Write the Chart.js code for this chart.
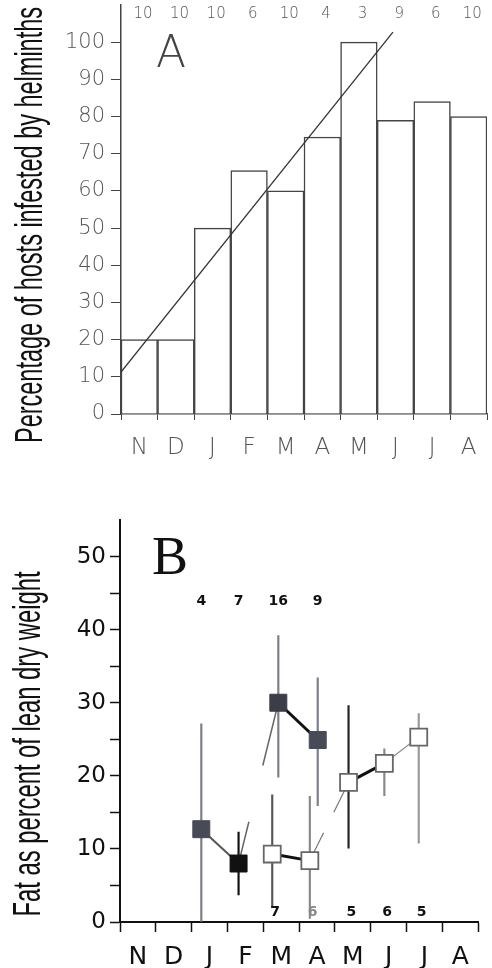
<!DOCTYPE html>
<html>
<head>
<meta charset="utf-8">
<script src="https://cdn.jsdelivr.net/npm/chart.js@4.4.0/dist/chart.umd.min.js"></script>
<style>
  html, body { margin: 0; padding: 0; background: #fff; }
  .panel { position: absolute; left: 0; width: 492px; }
  #top { top: 0; height: 470px; }
  #bottom { top: 470px; height: 498px; }
</style>
</head>
<body>
<div class="panel" id="top"><canvas id="chartA"></canvas></div>
<div class="panel" id="bottom"><canvas id="chartB"></canvas></div>
<script>
const months = ['N', 'D', 'J', 'F', 'M', 'A', 'M', 'J', 'J', 'A'];

// panel A - % hosts infested
const infested = [20, 20, 50, 65.5, 60, 74.5, 100, 79, 84, 80];
const hostsN = [10, 10, 10, 6, 10, 4, 3, 9, 6, 10];
const trendX = [0, 7.43];
const trendY = [11.3, 102.7];

// panel B - fat index, x is month position (0 = start of N)
const filledX = [2.27, 3.31, 4.42, 5.52];
const filledY = [12.7, 8.0, 30.0, 24.9];
const filledLow = [0, 3.7, 19.8, 15.9];
const filledHigh = [27.1, 12.3, 39.2, 33.4];
const filledN = [4, 7, 16, 9];

const openX = [4.25, 5.30, 6.38, 7.38, 8.34];
const openY = [9.3, 8.4, 19.1, 21.7, 25.3];
const openLow = [2.0, 0.5, 10.1, 17.3, 10.8];
const openHigh = [17.4, 17.2, 29.6, 23.7, 28.5];
const openN = [7, 6, 5, 6, 5];

const thin = 'DejaVu Sans';

// rotated axis title, squeezed along its length like the original lettering
function drawTitle(ctx, text, x, y, size, len) {
  ctx.save();
  ctx.translate(x, y);
  ctx.rotate(-Math.PI / 2);
  ctx.font = size + 'px "Liberation Sans", Arial, sans-serif';
  const w = ctx.measureText(text).width;
  ctx.scale(len / w, 1);
  ctx.fillStyle = '#111';
  ctx.textAlign = 'center';
  ctx.textBaseline = 'alphabetic';
  ctx.fillText(text, 0, 0);
  ctx.restore();
}

const monthTicks = v => (v % 1 === 0.5) ? months[Math.floor(v)] : '';

const labelsA = {
  id: 'labelsA',
  afterDraw(chart) {
    const { ctx, scales } = chart;
    ctx.save();
    ctx.fillStyle = '#555';
    ctx.font = '200 15px ' + thin;
    ctx.textAlign = 'center';
    ctx.textBaseline = 'middle';
    hostsN.forEach((n, i) => {
      ctx.fillText(n, scales.x.getPixelForValue(i + 0.6), scales.y.getPixelForValue(107.5));
    });
    ctx.font = '200 44px ' + thin;
    ctx.fillStyle = '#444';
    ctx.fillText('A', 171, scales.y.getPixelForValue(96.5));
    ctx.restore();
    drawTitle(ctx, 'Percentage of hosts infested by helminths', 42, 225, 38, 436);
  }
};

const labelsB = {
  id: 'labelsB',
  afterDraw(chart) {
    const { ctx, scales } = chart;
    ctx.save();
    ctx.textAlign = 'center';
    ctx.textBaseline = 'middle';
    ctx.font = 'bold 14px ' + thin;
    ctx.fillStyle = '#111';
    filledN.forEach((n, i) => {
      ctx.fillText(n, scales.x.getPixelForValue(filledX[i]), scales.y.getPixelForValue(43.9));
    });
    openN.forEach((n, i) => {
      ctx.fillStyle = i === 1 ? '#888' : '#111';
      ctx.fillText(n, scales.x.getPixelForValue(openX[i] + 0.08), scales.y.getPixelForValue(1.3));
    });
    ctx.font = '54px "Liberation Serif", serif';
    ctx.fillStyle = '#111';
    ctx.fillText('B', 170, scales.y.getPixelForValue(49.5));
    ctx.restore();
    drawTitle(ctx, 'Fat as percent of lean dry weight', 40, 274, 38, 345);
  }
};

new Chart(document.getElementById('chartA'), {
  type: 'line',
  data: {
    labels: months,
    datasets: [
      {
        type: 'line',
        data: trendX.map((x, i) => ({ x, y: trendY[i] })),
        borderColor: '#333',
        borderWidth: 1.3,
        pointRadius: 0,
        order: 0
      },
      {
        type: 'bar',
        data: infested.map((v, i) => ({ x: i + 0.5, y: v })),
        backgroundColor: '#fff',
        borderColor: '#444',
        borderWidth: 1.5,
        barPercentage: 1,
        categoryPercentage: 1,
        grouped: false,
        order: 1
      }
    ]
  },
  options: {
    responsive: true,
    maintainAspectRatio: false,
    animation: false,
    layout: { padding: { top: 5, right: 5, left: 0, bottom: 0 } },
    plugins: { legend: { display: false }, tooltip: { enabled: false } },
    scales: {
      x: {
        type: 'linear', min: 0, max: 10, offset: false,
        ticks: { stepSize: 1, autoSkip: false, callback: () => '' },
        grid: { drawOnChartArea: false, offset: false, tickLength: 6, color: '#444' },
        border: { color: '#444', width: 1.5 },
        afterFit: s => { s.height = 6; s.paddingLeft = 0; s.paddingRight = 0; }
      },
      xm: {
        type: 'category', position: 'bottom', offset: true,
        ticks: { maxRotation: 0, padding: 6, color: '#555', font: { family: thin, size: 23, weight: '200' } },
        grid: { display: false },
        border: { display: false },
        afterFit: s => { s.height = 50; s.paddingLeft = 0; s.paddingRight = 0; }
      },
      y: {
        min: 0, max: 110,
        ticks: {
          stepSize: 10, padding: 6, color: '#555',
          font: { family: thin, size: 21, weight: '200' },
          callback: v => v <= 100 ? v : ''
        },
        grid: {
          drawOnChartArea: false, tickLength: 10,
          tickColor: c => c.tick && c.tick.value > 100 ? 'rgba(0,0,0,0)' : '#444'
        },
        border: { color: '#444', width: 1.5 },
        afterFit: s => { s.width = 121; s.paddingTop = 0; s.paddingBottom = 0; }
      }
    }
  },
  plugins: [labelsA]
});

const seg = (styles, key) => c => {
  const s = styles[c.p0DataIndex];
  return s ? s[key] : undefined;
};
const filledSeg = [
  { color: '#555', width: 2, dash: [] },
  { color: '#666', width: 1.5, dash: [43, 58, 66] },
  { color: '#111', width: 3, dash: [] }
];
const openSeg = [
  { color: '#111', width: 3, dash: [] },
  { color: '#777', width: 1.2, dash: [31, 23, 60] },
  { color: '#111', width: 3, dash: [] },
  { color: '#888', width: 1.2, dash: [] }
];

new Chart(document.getElementById('chartB'), {
  type: 'line',
  data: {
    datasets: [
      {
        type: 'line',
        data: filledX.map((x, i) => ({ x, y: filledY[i] })),
        segment: {
          borderColor: seg(filledSeg, 'color'),
          borderWidth: seg(filledSeg, 'width'),
          borderDash: seg(filledSeg, 'dash')
        },
        borderColor: '#111',
        pointStyle: 'rect',
        pointRadius: 12,
        pointBackgroundColor: ['#474b58', '#111', '#3b3e48', '#474b58'],
        pointBorderColor: ['#474b58', '#111', '#3b3e48', '#474b58'],
        pointBorderWidth: 1,
        order: 1
      },
      {
        type: 'line',
        data: openX.map((x, i) => ({ x, y: openY[i] })),
        segment: {
          borderColor: seg(openSeg, 'color'),
          borderWidth: seg(openSeg, 'width'),
          borderDash: seg(openSeg, 'dash')
        },
        borderColor: '#111',
        pointStyle: 'rect',
        pointRadius: 12,
        pointBackgroundColor: '#fff',
        pointBorderColor: '#666',
        pointBorderWidth: 1.8,
        order: 2
      },
      {
        type: 'bar',
        data: filledX.map((x, i) => ({ x, y: [filledLow[i], filledHigh[i]] })),
        backgroundColor: ['#7a7e88', '#111', '#7a7e88', '#7a7e88'],
        barThickness: 1.5,
        grouped: false,
        order: 3
      },
      {
        type: 'bar',
        data: openX.map((x, i) => ({ x, y: [openLow[i], openHigh[i]] })),
        backgroundColor: ['#555', '#888', '#222', '#888', '#999'],
        barThickness: 1.5,
        grouped: false,
        order: 3
      }
    ]
  },
  options: {
    responsive: true,
    maintainAspectRatio: false,
    animation: false,
    layout: { padding: { top: 50, right: 10, left: 0, bottom: 0 } },
    plugins: { legend: { display: false }, tooltip: { enabled: false } },
    scales: {
      x: {
        type: 'linear', min: 0, max: 10, offset: false,
        ticks: {
          stepSize: 0.5, autoSkip: false, maxRotation: 0, padding: 10,
          color: '#111', font: { family: thin, size: 25 },
          callback: monthTicks
        },
        grid: {
          drawOnChartArea: false, offset: false, tickLength: 10, tickWidth: 1.5,
          tickColor: c => c.tick && c.tick.value % 1 === 0 ? '#111' : 'rgba(0,0,0,0)'
        },
        border: { color: '#111', width: 2 },
        afterFit: s => { s.height = 46; }
      },
      y: {
        min: 0, max: 55,
        ticks: {
          stepSize: 5, padding: 4, color: '#111',
          font: { family: thin, size: 23 },
          callback: v => (v % 10 === 0 && v <= 50) ? v : ''
        },
        grid: {
          drawOnChartArea: false, tickLength: 10, tickWidth: 1.5,
          tickColor: c => c.tick && c.tick.value > 50 ? 'rgba(0,0,0,0)' : '#111'
        },
        border: { color: '#111', width: 2 },
        afterFit: s => { s.width = 120; }
      }
    }
  },
  plugins: [labelsB]
});
</script>
</body>
</html>
